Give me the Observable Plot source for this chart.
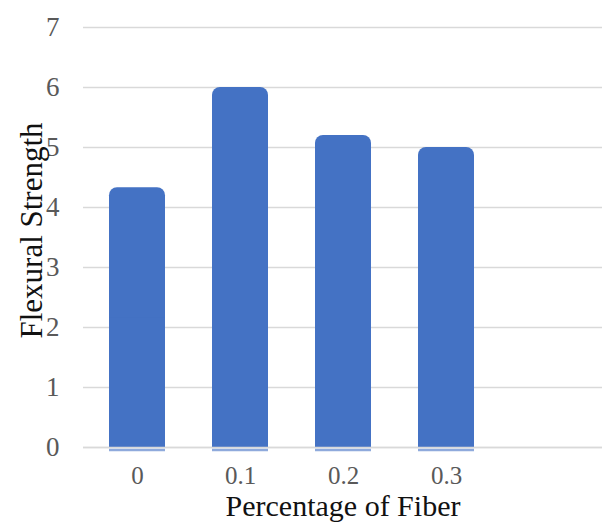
<!DOCTYPE html>
<html>
<head>
<meta charset="utf-8">
<script src="https://cdn.jsdelivr.net/npm/d3@7"></script>
<script src="https://cdn.jsdelivr.net/npm/@observablehq/plot@0.6"></script>
<style>
  html, body { margin: 0; padding: 0; background: #fff; }
  #chart svg { display: block; }
</style>
</head>
<body>
<div id="chart"></div>
<script>
// Fiber content (%) and measured flexural strength
const fiberPercent = ["0", "0.1", "0.2", "0.3"];
const flexuralStrength = [4.33, 6.0, 5.2, 5.0];
const yTicks = [0, 1, 2, 3, 4, 5, 6, 7];
const xTitle = "Percentage of Fiber";
const yTitle = "Flexural Strength";

const rows = fiberPercent.map((p, i) => ({p, v: flexuralStrength[i]}));
// an empty trailing slot keeps the same spacing as the plotted categories
const xDomain = [...fiberPercent, ""];

const blue = "#4472C4";
const serif = "'Liberation Serif', 'Times New Roman', serif";

const chart = Plot.plot({
  width: 604,
  height: 523,
  marginLeft: 83,
  marginRight: 2,
  marginTop: 27,
  marginBottom: 76,
  style: {fontFamily: serif, background: "#fff"},
  x: {type: "band", domain: xDomain, paddingInner: 0.46, paddingOuter: 0.23},
  y: {domain: [0, 7]},
  marks: [
    Plot.gridY(yTicks, {stroke: "#d9d9d9", strokeOpacity: 1, strokeWidth: 1.6}),
    // rounded top of each bar
    Plot.barY(rows, {x: "p", y: "v", fill: blue, rx: 8}),
    // square lower part so only the top corners are rounded
    Plot.barY(rows, {x: "p", y1: 0, y2: d => d.v / 2, fill: blue}),
    // baseline drawn over the bars
    Plot.ruleY([0], {stroke: "#d9d9d9", strokeWidth: 1.6}),
    Plot.tickY(rows, {x: "p", y: 0, stroke: "#8faadc", strokeWidth: 2.5, dy: 2.5}),
    Plot.axisY(yTicks, {tickSize: 0, tickPadding: 24, fontSize: 27, fill: "#595959", label: null, tickFormat: d3.format("d")}),
    Plot.axisX(fiberPercent, {tickSize: 0, tickPadding: 19, fontSize: 25, fill: "#595959", label: null}),
    Plot.text([xTitle], {frameAnchor: "bottom", textAnchor: "middle", lineAnchor: "middle", dy: 59, fontSize: 30, fill: "#111"}),
    Plot.text([yTitle], {frameAnchor: "left", textAnchor: "middle", lineAnchor: "middle", dx: -51, dy: -7, rotate: -90, fontSize: 31, fill: "#111"})
  ]
});

document.getElementById("chart").append(chart);
</script>
</body>
</html>
